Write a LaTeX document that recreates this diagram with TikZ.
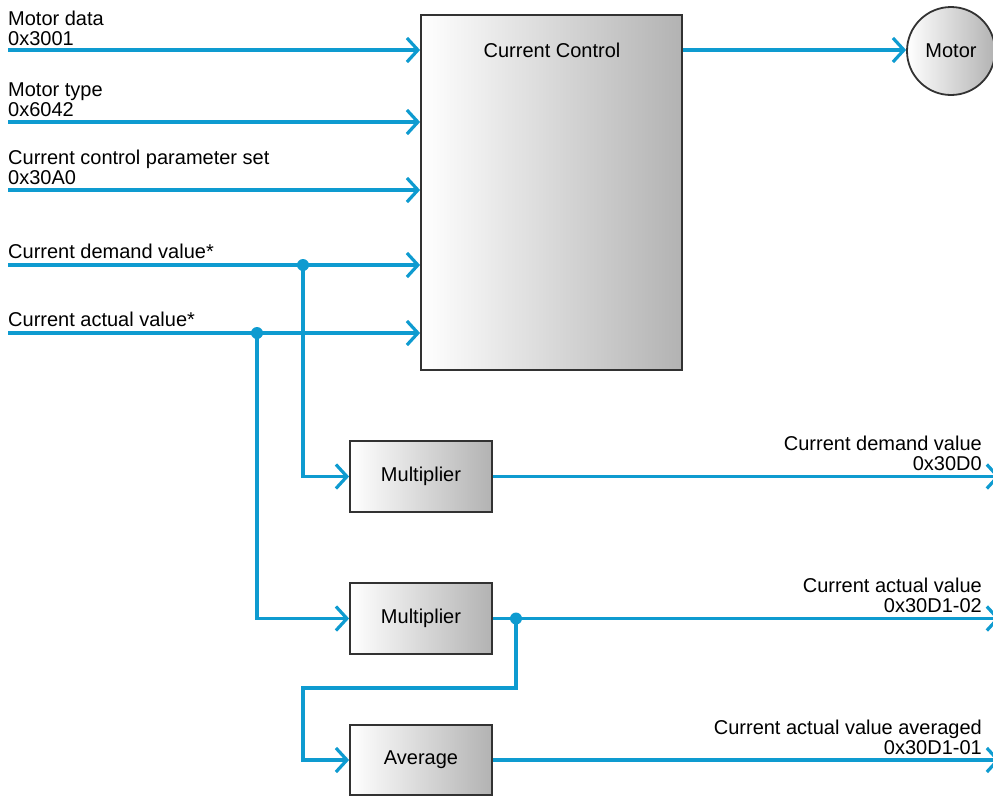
\documentclass[tikz,border=0pt]{standalone}
\usepackage{fontspec}
\setmainfont{Liberation Sans}
\usetikzlibrary{arrows.meta}
\definecolor{sigblue}{RGB}{14,155,208}
\definecolor{boxline}{RGB}{50,50,50}
\begin{document}
\begin{tikzpicture}[x=1pt,y=-1pt,
  font=\fontsize{20}{20}\selectfont,
  sig/.style={draw=sigblue, line width=3.2pt, -{Straight Barb[length=11pt,width=24pt]}},
  blk/.style={draw=boxline, line width=1.8pt, left color=white, right color=black!30, inner sep=0pt},
  jdot/.style={circle, fill=sigblue, inner sep=0pt, minimum size=12pt},
  lbl/.style={inner sep=0pt, align=left, anchor=south west},
  rlbl/.style={inner sep=0pt, align=right, anchor=south east}]
\useasboundingbox (0,0) rectangle (993,796);
\clip (0,0) rectangle (993,796);
% blocks
\node[blk, minimum width=261pt, minimum height=355pt] (cc) at (551.5,192.5) {};
\node[anchor=base] (cctitle) at (552,57) {Current Control};
\node[blk, circle, minimum size=88pt] (motor) at (951,51) {Motor};
\node[blk, minimum width=142pt, minimum height=71pt] (m1) at (421,476.5) {Multiplier};
\node[blk, minimum width=142pt, minimum height=71pt] (m2) at (421,618.5) {Multiplier};
\node[blk, minimum width=142pt, minimum height=70pt] (avg) at (421,760) {Average};
% input labels
\node[lbl] (l1) at (8,46) {Motor data\\0x3001};
\node[lbl] (l2) at (8,117) {Motor type\\0x6042};
\node[lbl] (l3) at (8,185) {Current control parameter set\\0x30A0};
\node[lbl] (l4) at (8,259) {Current demand value*};
\node[lbl] (l5) at (8,327) {Current actual value*};
% input starts
\coordinate (i1) at (8,50);
\coordinate (i2) at (8,122);
\coordinate (i3) at (8,190);
\coordinate (i4) at (8,265);
\coordinate (i5) at (8,333);
\draw[sig] (i1) -- (i1 -| cc.west);
\draw[sig] (i2) -- (i2 -| cc.west);
\draw[sig] (i3) -- (i3 -| cc.west);
\draw[sig] (i4) -- (i4 -| cc.west);
\draw[sig] (i5) -- (i5 -| cc.west);
\draw[sig] (cc.east |- i1) -- (i1 -| motor.west);
% branches
\node[jdot] (d1) at (303,265) {};
\node[jdot] (d2) at (257,333) {};
\node[jdot] (d3) at (516,618.5) {};
\draw[sig] (d1.center) |- (m1.west);
\draw[sig] (d2.center) |- (m2.west);
\coordinate (fb) at (303,688);
\draw[sig] (d3.center) |- (fb) |- (avg.west);
% outputs
\coordinate (o1) at (1000,476.5);
\coordinate (o2) at (1000,618.5);
\coordinate (o3) at (1000,760);
\draw[sig] (m1.east) -- (o1);
\draw[sig] (m2.east) -- (o2);
\draw[sig] (avg.east) -- (o3);
\node[rlbl] (r1) at (982,471) {Current demand value\\0x30D0};
\node[rlbl] (r2) at (982,613) {Current actual value\\0x30D1-02};
\node[rlbl] (r3) at (982,755) {Current actual value averaged\\0x30D1-01};
\end{tikzpicture}
\end{document}
